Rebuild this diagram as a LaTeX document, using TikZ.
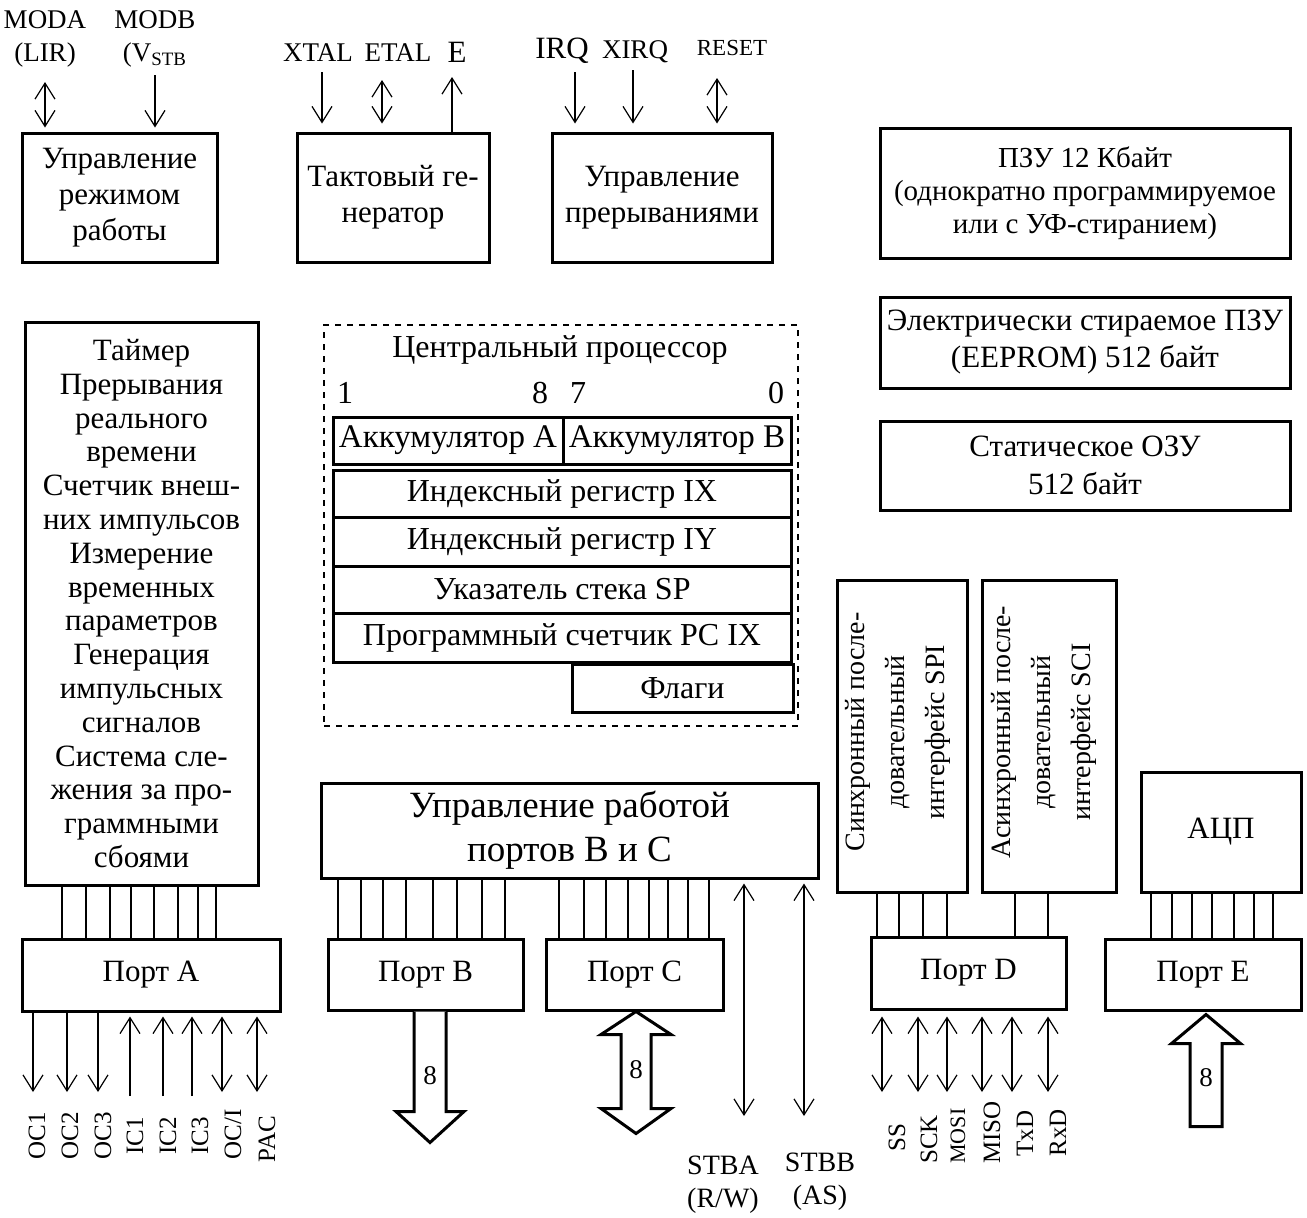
\documentclass[tikz,border=0pt]{standalone}
\usepackage{fontspec}
\setmainfont{Liberation Serif}
\usetikzlibrary{arrows.meta}

\tikzset{
  blk/.style={draw, line width=1.5pt, inner sep=0pt, align=center,
    font=\fontsize{15.5}{18}\selectfont},
  reg/.style={blk, font=\fontsize{16}{18}\selectfont},
  txt/.style={inner sep=0pt, align=center, font=\fontsize{15.5}{18}\selectfont},
  wire/.style={line width=0.6pt},
  lbl/.style={inner sep=0pt, font=\fontsize{13.5}{15}\selectfont},
  pin/.style={inner sep=0pt, rotate=90, anchor=west, font=\fontsize{12.5}{14}\selectfont},
  fat/.style={line width=1.5pt, fill=white, line join=miter},
  >={Straight Barb[length=8pt,width=10pt]}
}

\begin{document}
\begin{tikzpicture}[x=0.5pt, y=-0.5pt]
        \useasboundingbox (0,0) rectangle (1307,1217);

        % top row
        \node[blk, minimum width=97.5pt, minimum height=64.5pt] (mode) at (119.5,197.5) {Управление\\режимом\\работы};
        \node[blk, minimum width=96pt, minimum height=64.5pt] (clock) at (393,197.5) {Тактовый ге-\\нератор};
        \node[blk, minimum width=110pt, minimum height=64.5pt] (intr) at (662,197.5) {Управление\\прерываниями};

        \node[lbl] (moda) at (45,20) {MODA};
        \node[lbl] (modalir) at (45,55) {(LIR)};
        \node[lbl] (modb) at (155,20) {MODB};
        \node[lbl] (modbv) at (155,55) {(V\textsubscript{STB}};
        \node[lbl] (xtal) at (318,53) {XTAL};
        \node[lbl] (etal) at (398,53) {ETAL};
        \node[lbl, font=\fontsize{15.5}{17}\selectfont] (eclk) at (457,52) {E};
        \node[lbl, font=\fontsize{15.5}{17}\selectfont] (irq) at (562,51) {IRQ};
        \node[lbl] (xirq) at (635,52) {XIRQ};
        \node[lbl, font=\fontsize{11.5}{13}\selectfont] (reset) at (732,48) {RESET};

        \coordinate (modaend) at (45,82);
        \coordinate (modbend) at (155,75);
        \coordinate (xtalend) at (322,72);
        \coordinate (etalend) at (382,80);
        \coordinate (eend) at (452,77);
        \coordinate (irqend) at (575,72);
        \coordinate (xirqend) at (633,70);
        \coordinate (resetend) at (717,78);

        \draw[wire, <->, shorten >=2pt] (modaend) -- (modaend |- mode.north);
        \draw[wire, ->, shorten >=2pt] (modbend) -- (modbend |- mode.north);
        \draw[wire, ->, shorten >=4pt] (xtalend) -- (xtalend |- clock.north);
        \draw[wire, <->, shorten >=4pt] (etalend) -- (etalend |- clock.north);
        \draw[wire, ->] (eend |- clock.north) -- (eend);
        \draw[wire, ->, shorten >=4pt] (irqend) -- (irqend |- intr.north);
        \draw[wire, ->, shorten >=4pt] (xirqend) -- (xirqend |- intr.north);
        \draw[wire, <->, shorten >=4pt] (resetend) -- (resetend |- intr.north);

        % memory
        \node[blk, minimum width=205pt, minimum height=65pt, font=\fontsize{14.5}{16.5}\selectfont] (rom) at (1085,193) {ПЗУ 12 Кбайт\\(однократно программируемое\\или с УФ-стиранием)};
        \node[blk, minimum width=205pt, minimum height=45.5pt, font=\fontsize{15.5}{18.5}\selectfont] (eeprom) at (1085,342.5) {Электрически стираемое ПЗУ\\(EEPROM) 512 байт};
        \node[blk, minimum width=205pt, minimum height=44.5pt, font=\fontsize{15.5}{19}\selectfont] (ram) at (1085,465.5) {Статическое ОЗУ\\512 байт};

        % timer
        \node[blk, minimum width=116.5pt, minimum height=281.5pt, font=\fontsize{15.5}{16.9}\selectfont] (timer) at (141.5,603.5) {Таймер\\Прерывания\\реального\\времени\\Счетчик внеш-\\них импульсов\\Измерение\\временных\\параметров\\Генерация\\импульсных\\сигналов\\Система сле-\\жения за про-\\граммными\\сбоями};

        % cpu
        \node[draw, dashed, line width=0.6pt, minimum width=237pt, minimum height=200.5pt] (cpu) at (561,525.5) {};
        \node[txt, font=\fontsize{16}{18}\selectfont] (cputitle) at (560,350) {Центральный процессор};
        \node[txt, font=\fontsize{16}{18}\selectfont] (bit15) at (345,393) {1};
        \node[txt, font=\fontsize{16}{18}\selectfont] (bit8) at (540,393) {8};
        \node[txt, font=\fontsize{16}{18}\selectfont] (bit7) at (578,393) {7};
        \node[txt, font=\fontsize{16}{18}\selectfont] (bit0) at (776,393) {0};
        \node[reg, minimum width=115pt, minimum height=23.5pt, font=\fontsize{16.5}{18}\selectfont] (acca) at (448,440.5) {Аккумулятор A};
        \node[reg, minimum width=114pt, minimum height=23.5pt, font=\fontsize{16.5}{18}\selectfont] (accb) at (677,440.5) {Аккумулятор B};
        \node[reg, minimum width=229pt, minimum height=23.5pt] (regix) at (562,493.5) {Индексный регистр IX};
        \node[reg, minimum width=229pt, minimum height=24.5pt] (regiy) at (562,541.5) {Индексный регистр IY};
        \node[reg, minimum width=229pt, minimum height=23.5pt] (regsp) at (562,589.5) {Указатель стека SP};
        \node[reg, minimum width=229pt, minimum height=24.5pt] (regpc) at (562,637.5) {Программный счетчик PC IX};
        \node[reg, minimum width=110.5pt, minimum height=24pt] (flags) at (682.5,688) {Флаги};

        % serial, adc, port control
        \node[blk, minimum width=65pt, minimum height=156pt] (spi) at (902,736) {};
        \node[txt, rotate=90, font=\fontsize{14}{20}\selectfont] (spitxt) at (898,732) {Синхронный после-\\довательный\\интерфейс SPI};
        \node[blk, minimum width=67pt, minimum height=156pt] (sci) at (1049,736) {};
        \node[txt, rotate=90, font=\fontsize{14}{20}\selectfont] (scitxt) at (1044,732) {Асинхронный после-\\довательный\\интерфейс SCI};
        \node[blk, minimum width=80pt, minimum height=60pt] (adc) at (1221,832) {АЦП};
        \node[blk, minimum width=248.5pt, minimum height=47.5pt, font=\fontsize{18.5}{22}\selectfont] (ctrl) at (569.5,830.5) {Управление работой\\портов B и C};

        % ports
        \node[blk, minimum width=129pt, minimum height=36pt] (porta) at (151,975) {Порт A};
        \node[blk, minimum width=97.5pt, minimum height=35.5pt] (portb) at (425.5,974.5) {Порт B};
        \node[blk, minimum width=88.5pt, minimum height=35.5pt] (portc) at (634.5,974.5) {Порт C};
        \node[blk, minimum width=97.5pt, minimum height=36pt] (portd) at (968.5,973) {Порт D};
        \node[blk, minimum width=98pt, minimum height=35.5pt] (porte) at (1203,974.5) {Порт E};

        % buses
        \foreach \x in {62,86,110,131,154,178,198,216}
          \draw[wire] (\x,0 |- timer.south) -- (\x,0 |- porta.north);
        \foreach \x in {338,361,383,406,433,457,482,505}
          \draw[wire] (\x,0 |- ctrl.south) -- (\x,0 |- portb.north);
        \foreach \x in {559,584,606,628,649,668,688,709}
          \draw[wire] (\x,0 |- ctrl.south) -- (\x,0 |- portc.north);
        \foreach \x in {877,899,923,947}
          \draw[wire] (\x,0 |- spi.south) -- (\x,0 |- portd.north);
        \foreach \x in {1015,1048}
          \draw[wire] (\x,0 |- sci.south) -- (\x,0 |- portd.north);
        \foreach \x in {1151,1172,1192,1212,1234,1254,1273}
          \draw[wire] (\x,0 |- adc.south) -- (\x,0 |- porte.north);

        % port A lines
        \foreach \x/\n in {33/oc1,67/oc2,98/oc3} {
          \coordinate (\n) at (\x,1092);
          \draw[wire, ->] (\n |- porta.south) -- (\n);
        }
        \foreach \x/\n in {130/ic1,163/ic2,192/ic3} {
          \coordinate (\n) at (\x,1096);
          \draw[wire, ->, shorten >=2pt] (\n) -- (\n |- porta.south);
        }
        \foreach \x/\n in {222/oci,257/pac} {
          \coordinate (\n) at (\x,1092);
          \draw[wire, <->, shorten <=2pt] (\n |- porta.south) -- (\n);
        }
        \node[pin] (oc1lbl) at (37,1160) {OC1};
        \node[pin] (oc2lbl) at (70,1160) {OC2};
        \node[pin] (oc3lbl) at (103,1160) {OC3};
        \node[pin] (ic1lbl) at (135,1155) {IC1};
        \node[pin] (ic2lbl) at (168,1155) {IC2};
        \node[pin] (ic3lbl) at (200,1155) {IC3};
        \node[pin] (ocilbl) at (233,1160) {OC/I};
        \node[pin] (paclbl) at (267,1163) {PAC};

        % port B, C buses
        \coordinate (busb) at (430,0 |- portb.south);
        \draw[fat] (busb) ++(-16,0) -- ++(0,100) -- ++(-18,0) -- ++(34,31) -- ++(34,-31) -- ++(-18,0) -- ++(0,-100);
        \node[lbl] (busbw) at (430,1076) {8};
        \coordinate (busc) at (636,0 |- portc.south);
        \draw[fat] (busc) -- ++(35,23) -- ++(-20,0) -- ++(0,74) -- ++(20,0) -- ++(-35,25) -- ++(-35,-25) -- ++(20,0) -- ++(0,-74) -- ++(-20,0) -- cycle;
        \node[lbl] (buscw) at (636,1070) {8};

        % strobes
        \coordinate (stba) at (744,1116);
        \coordinate (stbb) at (804,1116);
        \draw[wire, <->, shorten <=2pt] (stba |- ctrl.south) -- (stba);
        \draw[wire, <->, shorten <=2pt] (stbb |- ctrl.south) -- (stbb);
        \node[lbl, align=center, font=\fontsize{14}{16.5}\selectfont] (stbalbl) at (723,1185) {STBA\\(R/W)};
        \node[lbl, align=center, font=\fontsize{14}{16.5}\selectfont] (stbblbl) at (820,1182) {STBB\\(AS)};

        % port D lines
        \foreach \x/\n in {882/ss,918/sck,947/mosi,982/miso,1012/txd,1048/rxd} {
          \coordinate (\n) at (\x,1092);
          \draw[wire, <->, shorten <=3pt] (\n |- portd.south) -- (\n);
        }
        \node[pin] (sslbl) at (897,1152) {SS};
        \node[pin] (scklbl) at (929,1164) {SCK};
        \node[pin, font=\fontsize{11}{12}\selectfont] (mosilbl) at (958,1164) {MOSI};
        \node[pin] (misolbl) at (992,1164) {MISO};
        \node[pin] (txdlbl) at (1025,1157) {TxD};
        \node[pin] (rxdlbl) at (1058,1157) {RxD};

        % port E bus
        \coordinate (buse) at (1206,0 |- porte.south);
        \draw[fat] (buse) ++(0,3) -- ++(34.5,29) -- ++(-18.5,0) -- ++(0,83) -- ++(-32,0) -- ++(0,-83) -- ++(-18.5,0) -- cycle;
        \node[lbl] (busew) at (1206,1078) {8};
\end{tikzpicture}
\end{document}
